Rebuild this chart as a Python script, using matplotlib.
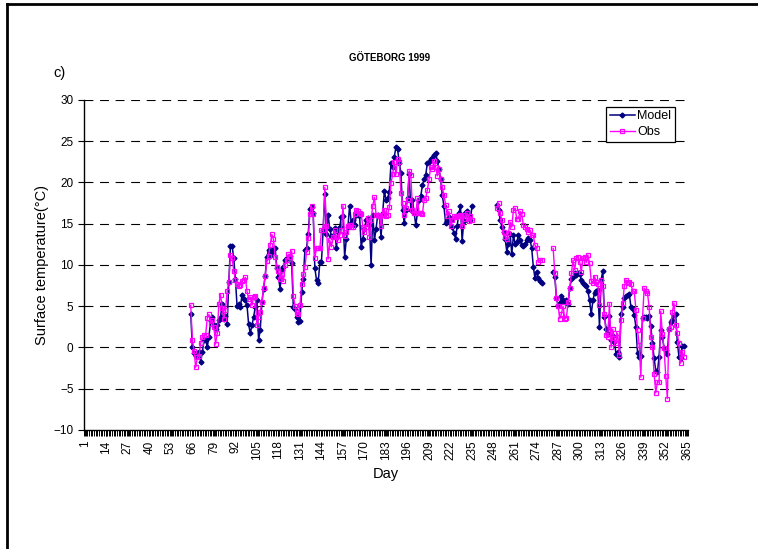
import numpy as np
import matplotlib
matplotlib.use("Agg")
from matplotlib import pyplot as plt
from matplotlib.lines import Line2D

plt.rcParams["font.family"] = ["Liberation Sans", "DejaVu Sans"]

# segment 1: days 65-235
days1 = np.arange(65, 236)
model1 = [4.1, 0.0, -0.7, -1.0, -0.7, -0.6, -1.7, -0.6, 0.9, 0.9,
          0.1, 1.3, 3.2, 3.7, 2.7, 2.3, 2.7, 3.3, 3.7, 5.3,
          3.5, 3.8, 2.8, 7.9, 12.3, 12.3, 10.8, 8.3, 5.0, 5.3,
          4.9, 6.4, 5.9, 5.7, 5.1, 2.8, 1.7, 2.7, 3.7, 4.9,
          5.7, 0.9, 2.1, 5.5, 7.1, 8.7, 11.0, 11.8, 11.1, 11.6,
          11.9, 12.1, 9.6, 8.6, 7.1, 9.4, 9.8, 10.6, 10.9, 10.8,
          11.1, 10.2, 4.9, 4.7, 3.7, 3.1, 3.2, 6.7, 8.3, 11.8,
          12.1, 13.8, 16.8,
          17.0, 16.3, 9.6, 8.2, 7.8, 10.3, 10.4, 14.2, 18.6, 13.8,
          16.1, 14.4, 13.5, 13.5, 14.5, 12.0, 14.0, 14.6, 15.8, 15.9,
          11.0, 13.1, 14.6, 17.2, 15.1, 15.5, 14.8, 16.1, 16.1, 16.1,
          12.2, 13.2, 14.3, 15.5, 15.7, 14.8, 10.0, 16.1, 13.0, 14.4,
          16.1, 15.9, 13.4, 16.3, 19.0, 17.9, 18.1, 18.9, 22.3, 21.9,
          23.1, 24.3, 24.0, 22.4, 21.2, 16.7, 15.1, 16.7, 18.1, 21.0,
          16.7, 17.9, 16.3, 14.8, 16.3, 17.9, 18.3, 19.7, 20.4, 20.9,
          22.4,
          22.5, 22.8, 23.0, 23.3, 23.6, 22.6, 21.6, 20.4, 18.5, 17.1,
          15.1, 15.3, 15.8, 15.4, 14.6, 13.9, 13.2, 14.7, 16.3, 17.1,
          12.9, 15.3, 16.3, 16.5, 15.9, 15.5, 17.2]
obs1 = [5.1, 0.9, -0.4, -2.4, -1.2, -1.0, 0.5, 1.3, 1.5, 1.5,
        3.6, 4.0, 2.9, 3.3, 2.5, 0.4, 1.7, 5.3, 6.4, 4.8,
        3.5, 4.5, 6.8, 7.9, 11.2, 10.8, 9.3, 8.2, 7.7, 7.4,
        7.6, 8.1, 8.2, 8.5, 6.8, 5.9, 6.1, 5.1, 6.1, 6.3,
        2.7, 3.7, 4.3, 5.5, 7.2, 8.7, 10.5, 11.1, 12.4, 13.7,
        13.1, 11.0, 9.8, 9.3, 8.3, 8.9, 8.0, 10.0, 10.6, 11.3,
        11.0, 11.7, 6.3, 5.0, 4.3, 4.0, 5.1, 7.7, 8.9, 9.7,
        11.6, 13.3, 16.2,
        17.1, 16.2, 10.9, 12.0, 12.0, 12.0, 14.2, 14.2, 19.4, 14.7,
        10.7, 13.0, 12.2, 13.4, 14.2, 13.4, 13.0, 13.6, 14.2, 17.2,
        13.5, 14.0, 14.7, 14.8, 14.6, 14.6, 16.2, 16.7, 16.5, 16.3,
        16.2, 14.6, 14.0, 14.6, 15.7, 13.4, 15.5, 17.2, 18.2, 16.1,
        16.1, 15.9, 14.7, 16.1, 16.7, 15.9, 16.1, 17.0, 19.9, 21.0,
        22.5, 21.0, 22.8, 22.5, 18.7, 17.5, 16.1, 16.9, 17.9, 21.4,
        20.9, 16.7, 16.3, 16.3, 18.1, 16.3, 16.3, 16.2, 17.9, 18.1,
        19.1,
        20.4, 21.9, 21.6, 22.6, 21.9, 20.8, 21.6, 20.4, 19.4, 18.5,
        17.3, 15.9, 16.5, 14.7, 15.5, 15.9, 15.8, 15.9, 15.9, 16.1,
        14.7, 15.6, 16.1, 16.3, 15.3, 15.9, 15.5]

# segment 2: days 250-277
days2 = np.arange(250, 278)
model2 = [17.3, 16.7, 15.5, 14.6, 14.0, 13.2, 11.6, 12.6, 13.8, 11.3,
          13.6, 12.6, 12.8, 13.6, 13.0, 12.4, 12.3, 12.6, 13.0, 13.3,
          13.0, 12.1, 9.8, 8.4, 9.2, 8.4, 8.0, 7.8]
obs2 = [16.9, 17.5, 16.3, 15.4, 14.0, 13.4, 13.2, 13.9, 15.2, 14.6,
        16.7, 16.9, 15.6, 15.6, 16.5, 16.2, 14.8, 14.6, 14.4, 14.0,
        14.2, 13.6, 13.6, 12.4, 12.1, 10.4, 10.6, 10.6]

# segment 3: days 284-363
days3 = np.arange(284, 364)
model3 = [9.1, 8.5, 6.0, 5.1, 5.4, 6.2, 5.8, 5.5, 5.7, 5.3,
          7.2, 8.3, 8.6, 9.0, 8.8, 9.0, 8.9, 8.2, 7.8, 7.6,
          7.4, 6.8, 5.7, 4.0, 5.7, 6.6, 6.9, 7.0, 2.5, 8.2,
          9.3, 3.7, 2.3, 1.6, 3.8, 0.9, 1.4, 0.7, -0.8, -0.6,
          -1.2, 4.1, 4.9, 6.0, 6.2, 6.4, 6.5, 4.9, 4.7, 3.9,
          2.5, -0.7, -1.1, -1.0, 3.6, 3.7, 3.7, 3.6, 3.8, 2.6,
          0.5, -1.3, -2.8, -3.0, -1.1, 2.1, 1.3, -0.1, -0.3, -0.8,
          2.3, 3.1, 3.3, 3.9, 4.1, 0.7, -1.1, -1.3, 0.2, 0.2]
obs3 = [12.0, 9.0, 6.0, 5.0, 3.5, 4.1, 5.0, 3.5, 3.6, 5.5,
        7.2, 9.0, 10.6, 9.4, 10.8, 11.0, 10.4, 9.2, 10.9, 11.0,
        10.3, 11.2, 10.2, 8.1, 7.8, 8.6, 7.9, 7.7, 5.1, 8.2,
        7.4, 4.1, 1.5, 1.3, 5.3, 0.0, 2.2, 1.1, 0.5, 1.7,
        -0.9, 3.3, 5.4, 7.4, 8.2, 7.8, 7.9, 7.7, 6.9, 6.8,
        4.6, 2.1, 0.3, -3.6, 3.6, 7.2, 6.8, 6.6, 4.9, 1.3,
        0.0, -3.2, -5.5, -4.2, -4.2, 4.4, 1.6, -0.1, -3.4, -6.2,
        2.3, 2.5, 4.3, 5.4, 2.7, 1.7, 0.5, -1.9, -0.5, -1.1]

tick_days = np.arange(1, 366, 13)


def join(parts):
    out = []
    for i, p in enumerate(parts):
        if i:
            out.append(np.nan)
        out.extend(p)
    return np.array(out, dtype=float)


x = join([days1, days2, days3])
model = join([model1, model2, model3])
obs = join([obs1, obs2, obs3])

fig = plt.figure(figsize=(7.58, 5.49), dpi=100)
ax = fig.add_axes([0.1108, 0.2168, 0.7969, 0.6011])

for v in range(-5, 31, 5):
    ax.axhline(v, color="black", lw=0.8, ls=(0, (8, 6)), zorder=1)

ax.plot(x, model, color="#000080", lw=1.1, marker="D", ms=2.5,
        mfc="#000080", mec="#000080", label="Model", zorder=3)
ax.plot(x, obs, color="#ff00ff", lw=1.0, marker="s", ms=3.5,
        mfc="none", mec="#ff00ff", mew=0.9, label="Obs", zorder=4)

ax.set_xlim(0.5, 365.5)
ax.set_ylim(-10, 30)
ax.set_yticks(range(-10, 31, 5))
ax.set_xticks(tick_days)
ax.set_xticklabels([str(d) for d in tick_days], rotation=90, fontsize=8.5)
ax.set_xticks(np.arange(0.5, 366, 1), minor=True)
ax.tick_params(axis="x", which="both", direction="out", length=4, width=0.7)
ax.tick_params(axis="y", direction="out", length=4, width=0.8, labelsize=8.5)

for s in ("top", "right"):
    ax.spines[s].set_visible(False)
for s in ("left", "bottom"):
    ax.spines[s].set_linewidth(1.0)

ax.set_ylabel("Surface temperature(°C)", fontsize=10.5)
ax.yaxis.set_label_coords(-0.058, 0.5)
ax.set_xlabel("Day", fontsize=10.5, labelpad=5)

leg = ax.legend(loc="upper left", bbox_to_anchor=(0.864, 0.98), fontsize=9,
                fancybox=False, framealpha=1, edgecolor="black",
                borderpad=0.3, handlelength=2.0, handletextpad=0.2,
                labelspacing=0.3, borderaxespad=0)
leg.get_frame().set_linewidth(0.9)

fig.text(0.5145, 0.894, "GÖTEBORG 1999", ha="center", va="center",
         fontsize=7, fontweight="bold")
fig.text(0.071, 0.867, "c)", ha="left", va="center", fontsize=10.5)

fig.add_artist(Line2D([0.009, 1.0], [0.9927, 0.9927], color="black", lw=2))
fig.add_artist(Line2D([0.009, 0.009], [0.0, 0.9927], color="black", lw=2))

fig.savefig("out.png", dpi=100)
